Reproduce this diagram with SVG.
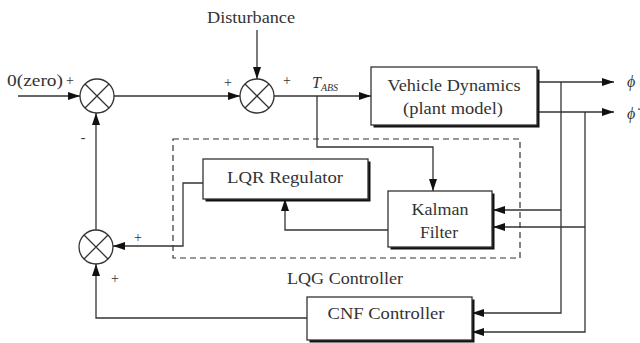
<svg xmlns="http://www.w3.org/2000/svg" width="640" height="343" viewBox="0 0 640 343">
<style>
.w{stroke:#333;stroke-width:1.3;fill:none}
.box{fill:#fff;stroke:#333;stroke-width:1.3}
.sh{fill:#111}
text{font-family:'Liberation Serif','DejaVu Serif','Times New Roman',serif;fill:#333}
.t{font-size:16px}
.s{font-size:14px}
.sub{font-size:10px}
.dash{fill:none;stroke:#333;stroke-width:1.2;stroke-dasharray:6,4}
</style>
<defs>
<marker id="ah" viewBox="0 0 12 8" refX="12" refY="4" markerWidth="12" markerHeight="8" markerUnits="userSpaceOnUse" orient="auto">
<path d="M0,0 L12,4 L0,8 Z" fill="#111"/>
</marker>
</defs>
<rect width="640" height="343" fill="#fff"/>

<g id="lqg">
<rect class="dash" x="173" y="139" width="347" height="119"/>
<text class="t" x="345" y="284" text-anchor="middle" textLength="116" lengthAdjust="spacingAndGlyphs">LQG Controller</text>
</g>

<g id="connectors" class="w">
<path d="M18,96 H80" marker-end="url(#ah)"/>
<path d="M114,96 H240" marker-end="url(#ah)"/>
<path d="M257,30 V79" marker-end="url(#ah)"/>
<path d="M274,96 H371" marker-end="url(#ah)"/>
<path d="M317,96 V147 H433 V191" marker-end="url(#ah)"/>
<path d="M537,82 H614" marker-end="url(#ah)"/>
<path d="M537,112 H614" marker-end="url(#ah)"/>
<path d="M561,82 V313 H472" marker-end="url(#ah)"/>
<path d="M561,210 H493" marker-end="url(#ah)"/>
<path d="M585,112 V332 H472" marker-end="url(#ah)"/>
<path d="M585,227 H493" marker-end="url(#ah)"/>
<path d="M388,230 H285 V199" marker-end="url(#ah)"/>
<path d="M203,183 H183 V246 H113" marker-end="url(#ah)"/>
<path d="M96,230 V113" marker-end="url(#ah)"/>
<path d="M307,318 H96 V264" marker-end="url(#ah)"/>
</g>

<g id="sum1">
<circle class="box" cx="97" cy="96" r="17"/>
<path class="w" d="M85,84 L109,108 M109,84 L85,108"/>
</g>
<g id="sum2">
<circle class="box" cx="257" cy="96" r="17"/>
<path class="w" d="M245,84 L269,108 M269,84 L245,108"/>
</g>
<g id="sum3">
<circle class="box" cx="96" cy="247" r="17"/>
<path class="w" d="M84,235 L108,259 M108,235 L84,259"/>
</g>

<g id="vehicle">
<rect class="sh" x="373.5" y="69.5" width="166" height="58"/>
<rect class="box" x="371" y="67" width="166" height="58"/>
<text class="t" x="454" y="91" text-anchor="middle" textLength="133" lengthAdjust="spacingAndGlyphs">Vehicle Dynamics</text>
<text class="t" x="453" y="114" text-anchor="middle" textLength="100" lengthAdjust="spacingAndGlyphs">(plant model)</text>
</g>

<g id="lqr">
<rect class="sh" x="205.5" y="161.5" width="165" height="40"/>
<rect class="box" x="203" y="159" width="165" height="40"/>
<text class="t" x="285" y="183" text-anchor="middle" textLength="116" lengthAdjust="spacingAndGlyphs">LQR Regulator</text>
</g>

<g id="kalman">
<rect class="sh" x="390.5" y="193.5" width="104" height="56"/>
<rect class="box" x="388" y="191" width="104" height="56"/>
<text class="t" x="440" y="215" text-anchor="middle" textLength="57" lengthAdjust="spacingAndGlyphs">Kalman</text>
<text class="t" x="439" y="238" text-anchor="middle" textLength="38" lengthAdjust="spacingAndGlyphs">Filter</text>
</g>

<g id="cnf">
<rect class="sh" x="309.5" y="299.5" width="165" height="43"/>
<rect class="box" x="307" y="297" width="165" height="43"/>
<text class="t" x="386" y="319" text-anchor="middle" textLength="117" lengthAdjust="spacingAndGlyphs">CNF Controller</text>
</g>

<g id="labels">
<text class="t" x="251" y="23" text-anchor="middle" textLength="88" lengthAdjust="spacingAndGlyphs">Disturbance</text>
<text class="t" x="7" y="86" textLength="56" lengthAdjust="spacingAndGlyphs">0(zero)</text>
<text class="s" x="70" y="85" text-anchor="middle">+</text>
<text class="s" x="228" y="87" text-anchor="middle">+</text>
<text class="s" x="287" y="85" text-anchor="middle">+</text>
<text class="s" x="138" y="242" text-anchor="middle">+</text>
<text class="s" x="115" y="283" text-anchor="middle">+</text>
<text class="s" x="83" y="142" text-anchor="middle">-</text>
<text class="t" x="312" y="88" font-style="italic">T<tspan class="sub" dy="3">ABS</tspan></text>
<text class="t" x="627" y="87" font-style="italic">ϕ</text>
<text class="t" x="627" y="119" font-style="italic">ϕ̇</text>
</g>
</svg>
